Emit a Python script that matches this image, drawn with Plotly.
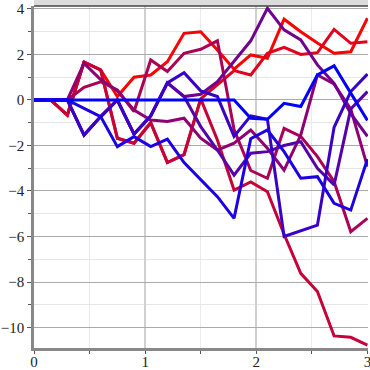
import plotly.graph_objects as go

# x positions (step 0.15)
x_vals = [0, 0.15, 0.3, 0.45, 0.6, 0.75, 0.9, 1.05, 1.2, 1.35, 1.5,
          1.65, 1.8, 1.95, 2.1, 2.25, 2.4, 2.55, 2.7, 2.85, 3.0]

# series values
red_a   = [0, 0, -0.66, 1.67, 1.32, 0.15, 1.0, 1.1, 1.68, 2.93, 3.0,
           2.2, 1.35, 1.98, 1.83, 3.55, 3.0, 2.5, 2.05, 2.12, 3.59]
red_b   = [0, 0, -0.66, 1.67, 1.32, -1.68, -1.9, -1.0, -2.75, -2.4, 0.05,
           0.66, 1.29, 1.1, 2.05, 2.31, 2.0, 2.08, 3.1, 2.49, 2.56]
crimson = [0, 0, -0.66, 1.67, 1.32, -1.68, -1.9, -1.0, -2.75, -2.4, 0.05,
           -1.76, -3.96, -3.6, -4.03, -5.9, -7.62, -8.42, -10.37, -10.43, -10.77]
rose    = [0, 0, 0, 0.56, 0.8, 0.44, -0.51, 1.76, 1.25, 2.05, 2.23,
           2.6, -1.3, -3.1, -3.44, -1.25, -1.6, -2.49, -3.59, -5.79, -5.2]
magenta = [0, 0, 0, 1.61, 0.9, 0.4, -0.44, -0.88, -0.95, -0.8, -1.68,
           -2.2, -1.9, -1.32, -2.12, -3.08, -1.54, 1.1, 0.7, -0.4, -2.93]
purple  = [0, 0, 0, -1.54, -0.73, 0, -1.5, -0.7, 0.75, 0.15, 0.25,
           0.8, 1.68, 2.6, 4.03, 3.08, 2.64, 1.54, 0.73, -0.6, -1.6]
violet  = [0, 0, 0, -1.54, -0.73, 0, -1.5, -0.7, 0.75, 0.15, -1.17,
           -2.2, -3.3, -2.34, -2.27, -2.0, -1.83, -3.0, -3.73, -0.4, 0.37]
indigo  = [0, 0, 0, -1.54, -0.73, 0, -1.5, -0.7, 0.75, 1.2, 0.4,
           0.15, -1.6, -0.7, -0.85, -6.0, -5.75, -5.5, -1.2, 0.37, 1.14]
blue_b  = [0, 0, 0, -0.37, -0.73, -2.05, -1.61, -2.05, -1.72, -2.75, -3.52,
           -4.25, -5.2, -1.7, -1.32, -2.27, -3.44, -3.37, -4.54, -4.84, -2.6]
blue_a  = [0, 0, 0, 0, 0, 0, 0, 0, 0, 0, 0,
           0, 0, -0.8, -0.85, -0.15, -0.29, 1.1, 1.5, 0.3, -0.9]

series = [red_a, red_b, crimson, rose, magenta, purple, violet, indigo, blue_b, blue_a]
colors = ["#ff0000", "#e3001c", "#c60039", "#aa0055", "#8e0071",
          "#71008e", "#5500aa", "#3900c6", "#1c00e3", "#0000ff"]

y_major = [-10, -8, -6, -4, -2, 0, 2, 4]
x_major = [0, 1, 2, 3]

fig = go.Figure()
for ys, c in zip(series, colors):
    fig.add_trace(go.Scatter(x=x_vals, y=ys, mode="lines",
                             line=dict(color=c, width=3), showlegend=False,
                             hoverinfo="skip"))

tick_font = dict(family="Liberation Serif", size=15, color="#222")

fig.update_layout(
    width=370, height=370,
    margin=dict(l=34, r=2, t=6, b=22, autoexpand=False),
    paper_bgcolor="white", plot_bgcolor="white",
    xaxis=dict(range=[0, 3.005], tickvals=x_major, ticktext=[str(v) for v in x_major],
               automargin=False, ticklabelstandoff=-5, ticklabeloverflow="allow",
               showgrid=True, gridcolor="#d0d0d0", gridwidth=2,
               ticks="outside", ticklen=3, tickcolor="#555", tickwidth=1,
               showline=True, linecolor="#888", linewidth=2.5,
               zeroline=False, tickfont=tick_font,
               minor=dict(dtick=0.5, tick0=0, showgrid=True, gridcolor="#ebebeb",
                          gridwidth=1, ticks="outside", ticklen=3, tickcolor="#555")),
    yaxis=dict(range=[-10.9, 4.13], tickvals=y_major,
               automargin=False, ticklabeloverflow="allow",
               showgrid=True, gridcolor="#aaaaaa", gridwidth=1.3,
               ticks="outside", ticklen=4, tickcolor="#555", tickwidth=1,
               showline=True, linecolor="#888", linewidth=2.5,
               zeroline=False, tickfont=tick_font,
               minor=dict(dtick=1, tick0=0, showgrid=True, gridcolor="#e6e6e6",
                          gridwidth=1, ticks="outside", ticklen=3, tickcolor="#555")),
    shapes=[
        dict(type="rect", xref="paper", yref="paper", x0=0, x1=1, y0=1, y1=1.02,
             fillcolor="#dcdcdc", line=dict(width=0), layer="below"),
        dict(type="line", xref="paper", yref="paper", x0=0, x1=1, y0=1, y1=1,
             line=dict(color="#444", width=1.5)),
    ],
)

fig.write_html("out.html", config={"displayModeBar": False},
               post_script="document.body.style.margin='0';document.body.style.padding='0';")
